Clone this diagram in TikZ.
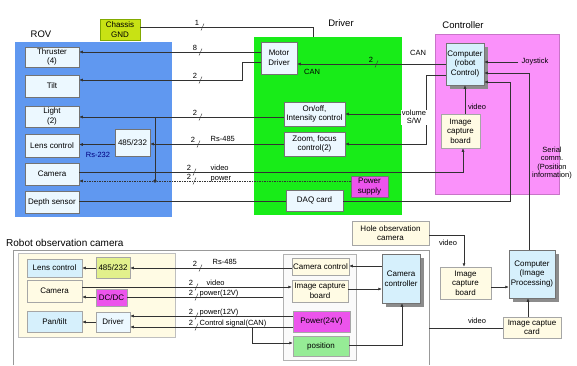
\documentclass[tikz,border=0pt]{standalone}
\usepackage{fontspec}
\setmainfont{Liberation Sans}
\usetikzlibrary{arrows.meta,shadows}
\definecolor{rovblue}{RGB}{96,152,240}
\definecolor{drvgreen}{RGB}{24,236,24}
\definecolor{ctlpink}{RGB}{250,145,250}
\definecolor{magbox}{RGB}{236,84,236}
\definecolor{chassisc}{RGB}{200,226,20}
\definecolor{chassisb}{RGB}{130,170,0}
\definecolor{cream}{RGB}{255,251,228}
\definecolor{lcyan}{RGB}{236,248,255}
\definecolor{compc}{RGB}{214,240,252}
\definecolor{yg}{RGB}{226,240,140}
\definecolor{posc}{RGB}{150,236,150}
\definecolor{lnc}{RGB}{50,50,50}
\newcommand{\busmark}[4]{%
  \node[lbl, anchor=base] (#4) at (#1,#2-2) {#3};
  \draw[line width=0.4pt, lnc] (#1+4,#2+3.5) -- (#1+7,#2-3.5);}
\begin{document}
\begin{tikzpicture}[x=1pt,y=-1pt,
  every node/.style={font=\fontsize{8}{9.5}\selectfont, align=center, inner sep=1pt},
  grp/.style={draw=none, inner sep=0pt},
  bx/.style={draw=black!55, line width=0.5pt},
  gbx/.style={draw=black!35, line width=0.5pt},
  hdr/.style={font=\fontsize{9.5}{11}\selectfont},
  lbl/.style={font=\fontsize{7.5}{8.5}\selectfont, inner sep=0.5pt},
  ln/.style={draw=lnc, line width=0.55pt},
  arr/.style={-{Latex[length=3.5pt,width=3pt]}},
  dsh/.style={dash pattern=on 1.5pt off 1pt},
  shd/.style={drop shadow={shadow xshift=3.5pt, shadow yshift=-3.5pt, fill=black!45, opacity=1}}
]
\useasboundingbox (0,0) rectangle (577,365);
\fill[white] (0,0) rectangle (577,365);

% headers
\node[hdr] (rovlbl) at (41,34) {ROV};
\node[hdr] (drvlbl) at (341,23) {Driver};
\node[hdr] (ctllbl) at (463,25) {Controller};
\node[hdr, anchor=west, font=\fontsize{10}{12}\selectfont] (roclbl) at (5,243) {Robot observation camera};

% group backgrounds
\node[grp, fill=rovblue, minimum width=157pt, minimum height=175pt] (rov) at (93.5,129.5) {};
\node[grp, fill=drvgreen, minimum width=148pt, minimum height=178pt] (drv) at (328,126) {};
\node[grp, fill=ctlpink, draw=ctlpink!80!black, minimum width=124pt, minimum height=160pt] (ctl) at (497,114) {};
\draw[draw=black!40, line width=0.6pt] (13,365) -- (13,250) -- (429,250) -- (429,365);
\node[grp, fill=cream, draw=black!25, minimum width=157pt, minimum height=84pt] (rocin) at (96.5,295) {};
\node[grp, fill=black!2, draw=black!30, minimum width=73pt, minimum height=106pt] (midin) at (319.5,307) {};

% ROV boxes
\node[bx, fill=chassisc, draw=chassisb, minimum width=40pt, minimum height=21pt] (chassis) at (120,29.5) {Chassis\\GND};
\node[bx, fill=lcyan, minimum width=54pt, minimum height=20pt] (thr) at (52,57) {Thruster\\(4)};
\node[bx, fill=lcyan, minimum width=54pt, minimum height=22pt] (tilt) at (52,86) {Tilt};
\node[bx, fill=lcyan, minimum width=54pt, minimum height=21pt] (light) at (52,116.5) {Light\\(2)};
\node[bx, fill=lcyan, minimum width=54pt, minimum height=23pt] (lens) at (52,145.5) {Lens control};
\node[bx, fill=lcyan, minimum width=54pt, minimum height=22pt] (cam) at (52,174) {Camera};
\node[bx, fill=lcyan, minimum width=54pt, minimum height=22pt] (depth) at (52,202) {Depth sensor};
\node[bx, fill=lcyan, minimum width=35pt, minimum height=27pt] (r485) at (132.5,142.5) {485/232};
\node[lbl, text=blue!50!black] (rs232) at (98,155) {Rs-232};

% Driver boxes
\node[bx, fill=lcyan, minimum width=36pt, minimum height=32pt] (motor) at (279,58) {Motor\\Driver};
\node[bx, fill=lcyan, minimum width=61pt, minimum height=24pt] (onoff) at (314.5,114) {On/off,\\Intensity control};
\node[bx, fill=lcyan, minimum width=61pt, minimum height=24pt] (zoomf) at (314.5,144) {Zoom, focus\\control(2)};
\node[bx, fill=magbox, minimum width=37pt, minimum height=21pt] (psup) at (369.5,186.5) {Power\\supply};
\node[bx, fill=lcyan, minimum width=57pt, minimum height=21pt] (daq) at (314.5,200.5) {DAQ card};
\node[lbl] (canin) at (312,72) {CAN};

% Controller boxes
\node[bx, fill=compc, shd, minimum width=38pt, minimum height=42pt] (comp1) at (465,64) {Computer\\(robot\\Control)};
\node[gbx, fill=cream, minimum width=39pt, minimum height=34pt] (icb1) at (460.5,131) {Image\\capture\\board};

% Lower right
\node[gbx, fill=cream, minimum width=77pt, minimum height=24pt] (hole) at (390.5,233) {Hole observation\\camera};
\node[gbx, fill=cream, minimum width=51pt, minimum height=32pt] (icb2) at (465.5,283) {Image\\capture\\board};
\node[bx, fill=compc, shd, minimum width=46pt, minimum height=48pt] (comp2) at (532,274) {Computer\\(Image\\Processing)};
\node[gbx, fill=cream, minimum width=58pt, minimum height=21pt] (icc) at (532,327.5) {Image captue\\card};

% Robot observation camera boxes
\node[gbx, fill=compc, minimum width=55pt, minimum height=18pt] (lens2) at (54.5,268) {Lens control};
\node[gbx, fill=yg, minimum width=34pt, minimum height=21pt] (r4852) at (113,267.5) {485/232};
\node[gbx, fill=cream, minimum width=55pt, minimum height=22pt] (cam2) at (54.5,291) {Camera};
\node[gbx, fill=magbox, minimum width=31pt, minimum height=17pt] (dcdc) at (111.5,297.5) {DC/DC};
\node[gbx, fill=compc, minimum width=55pt, minimum height=21pt] (pan) at (54.5,321.5) {Pan/tilt};
\node[gbx, fill=lcyan, minimum width=34pt, minimum height=20pt] (drv2) at (113,322) {Driver};
\node[gbx, fill=cream, minimum width=57pt, minimum height=17pt] (camctl) at (320.5,266.5) {Camera control};
\node[gbx, fill=cream, minimum width=56pt, minimum height=22pt] (icb3) at (320,291) {Image capture\\board};
\node[gbx, fill=magbox, minimum width=57pt, minimum height=21pt] (pwr24) at (321.5,321.5) {Power(24V)};
\node[gbx, fill=posc, minimum width=56pt, minimum height=20pt] (pos) at (321,346) {position};
\node[bx, fill=compc, shd, minimum width=38pt, minimum height=49pt] (camcon) at (401,278.5) {Camera\\controller};

% named bend points
\coordinate (gndin) at (313,37);
\coordinate (tiltb1) at (242,80);
\coordinate (tiltb2) at (242,62);
\coordinate (j1) at (155,117);
\coordinate (j2) at (155,181);
\coordinate (vidb) at (463,172);
\coordinate (volb1) at (426,75);
\coordinate (volb2) at (426,144);
\coordinate (volb3) at (426,114);
\coordinate (joy) at (518,62);
\coordinate (serb) at (529,73);
\coordinate (daqb1) at (510,201);
\coordinate (daqb2) at (510,82);
\coordinate (holeb) at (464,235);
\coordinate (framer) at (429,328);
\coordinate (pwrgray) at (283,297);
\coordinate (ctlb1) at (252,327);
\coordinate (ctlb2) at (252,343);
\coordinate (posb) at (402,345);

% upper connectors
\draw[ln] ([yshift=2.5pt]chassis.east) -| (gndin);
\draw[ln,arr] (motor.west |- 0,52) -- (thr.east |- 0,52);
\draw[ln,arr] (motor.west |- tiltb2) -- (tiltb2) -- (tiltb1) -- (tilt.east |- tiltb1);
\draw[ln,arr] (onoff.west |- j1) -- (light.east |- j1);
\draw[ln] (j1) -- (j2);
\fill[lnc] (j2) circle (1.8pt);
\draw[ln,arr] (zoomf.west |- 0,144) -- (r485.east |- 0,144);
\draw[ln,arr] (r485.west |- 0,144.5) -- (lens.east |- 0,144.5);
\draw[ln,arr] (cam.east |- vidb) -- (vidb) -- (icb1.south -| vidb);
\draw[ln,dsh,arr] (psup.west |- j2) -- (cam.east |- j2);
\draw[ln] (depth.east |- daqb1) -- (daq.west |- daqb1);
\draw[ln,arr] (daq.east |- daqb1) -- (daqb1) -- (daqb2) -- (comp1.east |- daqb2);
\draw[ln,arr] (comp1.west |- 0,64) -- (motor.east |- 0,64);
\draw[ln,arr] (comp1.west |- volb1) -- (volb1) -- (volb2) -- (zoomf.east |- volb2);
\draw[ln,arr] (volb3) -- (onoff.east |- volb3);
\node[lbl, fill=white] (vol) at (414,117) {volume\\S/W};
\draw[ln,arr] (joy) -- (comp1.east |- joy);
\node[lbl, anchor=west] (joylbl) at (521,62) {Joystick};
\draw[ln,arr] (comp2.north -| serb) -- (serb) -- (comp1.east |- serb);
\node[lbl] (serlbl) at (552,163) {Serial\\comm.\\(Position\\information)};
\draw[ln,arr] (icb1.north -| comp1.south) -- (comp1.south);
\node[lbl] (vidlbl1) at (477,107) {video};

% upper bus marks and labels
\busmark{197}{27}{1}{bm1}
\busmark{195}{52}{8}{bm2}
\busmark{195}{80}{2}{bm3}
\busmark{195}{117}{2}{bm4}
\busmark{193}{144}{2}{bm5}
\node[lbl, anchor=base west] (rs485a) at (210,141) {Rs-485};
\busmark{189}{172}{2}{bm6}
\node[lbl, anchor=base west] (vidtop) at (210,170) {video};
\busmark{189}{181}{2}{bm7}
\node[lbl, anchor=base west] (pwrtop) at (210,180) {power};
\busmark{371}{64}{2}{bm8}
\node[lbl] (canlbl) at (418,53) {CAN};

% lower right connectors
\draw[ln,arr] (hole.east |- holeb) -- (holeb) -- (icb2.north -| holeb);
\node[lbl] (vidhole) at (448,243) {video};
\draw[ln,arr] (icb2.east |- 0,287) -- (comp2.west |- 0,287);
\draw[ln,arr] (icc.north -| 528,0) -- (comp2.south -| 528,0);
\draw[ln] (icc.west |- framer) -- (framer);
\node[lbl] (vidicc) at (477,321) {video};

% robot observation camera connectors
\draw[ln,arr] (r4852.west |- 0,268) -- (lens2.east |- 0,268);
\draw[ln,arr] (camctl.west |- 0,268) -- (r4852.east |- 0,268);
\draw[ln,arr] (camcon.west |- 0,266) -- (camctl.east |- 0,266);
\draw[ln,arr] (cam2.east |- 0,287) -- (icb3.west |- 0,287);
\draw[ln,arr] (dcdc.west |- pwrgray) -- (cam2.east |- pwrgray);
\draw[ln] (pwrgray) -- (dcdc.east |- pwrgray);
\draw[ln,arr] (icb3.east |- 0,289) -- (camcon.west |- 0,289);
\draw[ln,arr] (pwr24.west |- 0,316) -- (drv2.east |- 0,316);
\draw[ln,arr] (pwr24.west |- ctlb1) -- (drv2.east |- ctlb1);
\draw[ln,arr] (drv2.west |- 0,322) -- (pan.east |- 0,322);
\draw[ln,arr] (ctlb1) -- (ctlb2) -- (pos.west |- ctlb2);
\draw[ln,arr] (pos.east |- posb) -- (posb) -- (camcon.south -| posb);

\busmark{195}{268}{2}{bm9}
\node[lbl, anchor=base west] (rs485b) at (212,264) {Rs-485};
\busmark{191}{287}{2}{bm10}
\node[lbl, anchor=base west] (vidlow) at (206,285) {video};
\busmark{191}{297}{2}{bm11}
\node[lbl, anchor=base west] (pw12a) at (199,295) {power(12V)};
\busmark{191}{316}{2}{bm12}
\node[lbl, anchor=base west] (pw12b) at (199,314) {power(12V)};
\busmark{191}{327}{2}{bm13}
\node[lbl, anchor=base west] (cansig) at (199,325) {Control signal(CAN)};
\end{tikzpicture}
\end{document}
